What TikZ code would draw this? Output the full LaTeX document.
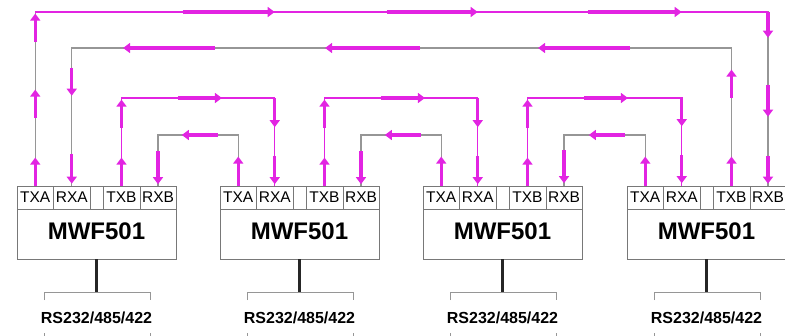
\documentclass[tikz,border=0pt]{standalone}
\usepackage{fontspec}
\setmainfont{Liberation Sans}
\usetikzlibrary{arrows.meta, decorations.markings}

\definecolor{flowpink}{RGB}{226,36,226}
\definecolor{linegray}{RGB}{150,150,150}
\definecolor{boxgray}{RGB}{120,120,120}

\tikzset{
  seg/.style={draw=flowpink, line width=3.4pt, -{Triangle[length=7pt, width=10pt]}},
  arr/.style 2 args={postaction={decorate, decoration={markings,
      mark=at position #1 with {\draw[seg] (-#2,0) -- (0,0);}}}},
  pinklink/.style={draw=flowpink, line width=1.1pt},
  graylink/.style={draw=linegray, line width=1.2pt},
  ringout/.style={arr={28pt}{28}, arr={96pt}{28}, arr={172pt}{28}, arr={413pt}{92},
      arr={616pt}{91}, arr={820pt}{94}, arr={932pt}{26}, arr={1011pt}{32}, arr={1078pt}{28}},
  ringback/.style={arr={29pt}{29}, arr={116pt}{28}, arr={331pt}{92}, arr={544pt}{95},
      arr={746pt}{92}, arr={845pt}{28}, arr={933pt}{30}},
  hopfwd/.style={arr={28pt}{28}, arr={86pt}{28}, arr={188pt}{44}, arr={270pt}{29}, arr={327pt}{28}},
  hopback/.style={arr={29pt}{29}, arr={107pt}{36}, arr={180pt}{33}},
  port/.style={draw=boxgray, line width=0.8pt, minimum height=23pt, inner sep=0pt,
      font=\fontsize{15.5}{15.5}\selectfont},
  unitbox/.style={draw=boxgray, line width=0.8pt, minimum width=159pt, minimum height=50pt, inner sep=0pt},
  stem/.style={draw=black!85, line width=2.4pt},
  brk/.style={draw=linegray, line width=1pt},
}

\begin{document}
\begin{tikzpicture}[x=1pt, y=-1pt]
  \useasboundingbox (0,0) rectangle (785,335);

  % the four MWF501 units with their ports
  \foreach \i/\x in {1/17, 2/220, 3/423, 4/627} {
    \node[unitbox] (u\i) at (\x+79.5,234) {};
    \node[font=\bfseries\fontsize{24}{24}\selectfont] (u\i-name) at (\x+79.5,231) {MWF501};
    \node[port, minimum width=36.5pt] (u\i-txa) at (\x+18.25,197.5) {TXA};
    \node[port, minimum width=36.5pt] (u\i-rxa) at (\x+54.75,197.5) {RXA};
    \node[port, minimum width=13pt] (u\i-gap) at (\x+79.5,197.5) {};
    \node[port, minimum width=37pt] (u\i-txb) at (\x+104.5,197.5) {TXB};
    \node[port, minimum width=36pt] (u\i-rxb) at (\x+141,197.5) {RXB};

    % serial side
    \coordinate (u\i-top) at (\x+79.5,292);
    \node[font=\bfseries\fontsize{16}{16}\selectfont] (u\i-bus) at (\x+79.5,318) {RS232/485/422};
    \draw[stem] (u\i.south) -- (u\i-top);
    \draw[brk] (\x+27,300) -- (\x+27,292) -- (\x+133,292) -- (\x+133,300);
    \draw[brk] (\x+27,333) -- (\x+27,338);
    \draw[brk] (\x+133,333) -- (\x+133,338);
  }

  % outer ring
  \draw[graylink, ringout] (u1-txa.north) |- (u4-rxb.north |- 0,12) -- (u4-rxb.north);
  \draw[pinklink] (u1-txa.north |- 0,12) -- (u4-rxb.north |- 0,12);
  \draw[graylink, ringback] (u4-txb.north) |- (u1-rxa.north |- 0,48) -- (u1-rxa.north);

  % neighbour links
  \foreach \a/\b in {1/2, 2/3, 3/4}
    \draw[pinklink, hopfwd] (u\a-txb.north) |- (u\b-rxa.north |- 0,98) -- (u\b-rxa.north);
  \foreach \a/\b in {2/1, 3/2, 4/3}
    \draw[graylink, hopback] (u\a-txa.north) |- (u\b-rxb.north |- 0,135) -- (u\b-rxb.north);

\end{tikzpicture}
\end{document}
